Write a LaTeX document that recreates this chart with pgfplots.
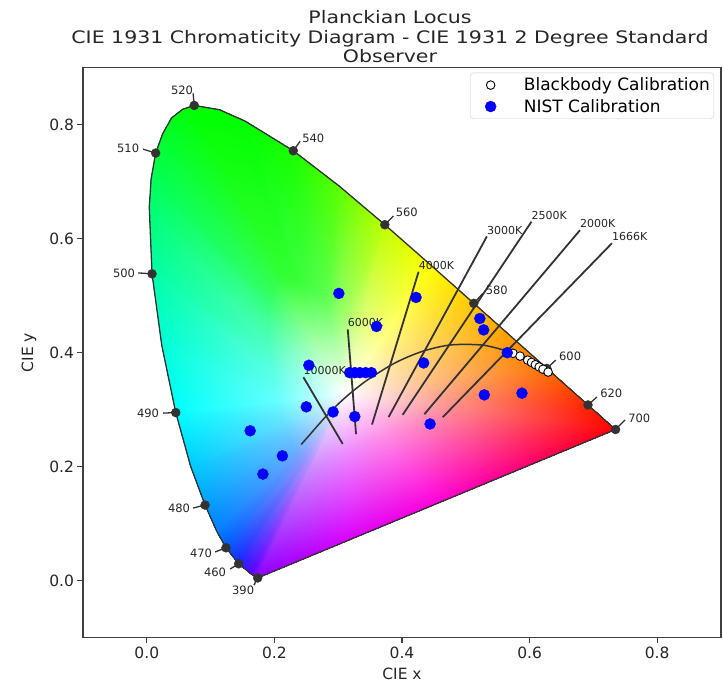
\documentclass[border=0pt]{standalone}
\usepackage{fontspec}
\setmainfont{DejaVu Sans}
\usepackage{graphicx}
\usepackage{pgfplots}
\pgfplotsset{compat=1.18}
\definecolor{locus}{RGB}{51,51,51}

\begin{document}
\begin{tikzpicture}
\begin{axis}[
  name=ax,
  scale only axis,
  width=638pt, height=570pt,
  xmin=-0.1, xmax=0.9, ymin=-0.1, ymax=0.9,
  xtick={0,0.2,0.4,0.6,0.8}, ytick={0,0.2,0.4,0.6,0.8},
  xticklabels={0.0,0.2,0.4,0.6,0.8}, yticklabels={0.0,0.2,0.4,0.6,0.8},
  tick align=outside, tick pos=left, major tick length=5.5pt,
  axis line style={black!75, line width=1.1pt},
  every tick/.style={black!75, line width=1.1pt},
  ticklabel style={font=\fontsize{15.5}{18}\selectfont, text=black!85},
  xlabel={CIE x}, ylabel={CIE y},
  xlabel shift=3pt, ylabel shift=6pt,
  label style={font=\fontsize{15.5}{18}\selectfont, text=black!85},
  legend style={at={(rel axis cs:1,1)}, anchor=north east, xshift=-7pt, yshift=-5pt,
    draw=black!20, rounded corners=3pt, fill=white,
    font=\fontsize{17}{19}\selectfont, row sep=3pt, inner xsep=2pt, inner ysep=3pt},
  legend cell align=left,
  legend image code/.code={\path (0pt,0pt) (49pt,0pt); \draw[#1] plot coordinates {(18pt,0pt)};},
  unbounded coords=jump,
]

% chromaticity fill: white point (0), inner ring (1-28), spectral locus (29-56, 57-59)
\addplot[forget plot, patch, patch type=triangle, shader=interp,
  mesh/color input=explicit, point meta=explicit symbolic,
  table/row sep=\\,
  patch table={%
0 1 2\\ 1 2 30\\ 1 30 29\\
0 2 3\\ 2 3 31\\ 2 31 30\\
0 3 4\\ 3 4 32\\ 3 32 31\\
0 4 5\\ 4 5 33\\ 4 33 32\\
0 5 6\\ 5 6 34\\ 5 34 33\\
0 6 7\\ 6 7 35\\ 6 35 34\\
0 7 8\\ 7 8 36\\ 7 36 35\\
0 8 9\\ 8 9 37\\ 8 37 36\\
0 9 10\\ 9 10 38\\ 9 38 37\\
0 10 11\\ 10 11 39\\ 10 39 38\\
0 11 12\\ 11 39 57\\ 11 57 12\\ 12 57 40\\
0 12 13\\ 12 40 58\\ 12 58 13\\ 13 58 41\\
0 13 14\\ 13 41 59\\ 13 59 14\\ 14 59 42\\
0 14 15\\ 14 15 43\\ 14 43 42\\
0 15 16\\ 15 16 44\\ 15 44 43\\
0 16 17\\ 16 17 45\\ 16 45 44\\
0 17 18\\ 17 18 46\\ 17 46 45\\
0 18 19\\ 18 19 47\\ 18 47 46\\
0 19 20\\ 19 20 48\\ 19 48 47\\
0 20 21\\ 20 21 49\\ 20 49 48\\
0 21 22\\ 21 22 50\\ 21 50 49\\
0 22 23\\ 22 23 51\\ 22 51 50\\
0 23 24\\ 23 24 52\\ 23 52 51\\
0 24 25\\ 24 25 53\\ 24 53 52\\
0 25 26\\ 25 26 54\\ 25 54 53\\
0 26 27\\ 26 27 55\\ 26 55 54\\
0 27 28\\ 27 28 56\\ 27 56 55\\
0 28 1\\ 28 1 29\\ 28 29 56\\
}] table[x=x, y=y, meta=c] {
x y c\\
0.3127 0.3290 rgb=1,1,1\\
0.2571 0.1994 rgb=0.80,0.55,1\\
0.2534 0.2018 rgb=0.71,0.55,1\\
0.2452 0.2093 rgb=0.55,0.58,1\\
0.2373 0.2205 rgb=0.45,0.64,1\\
0.2315 0.2321 rgb=0.40,0.70,1\\
0.2241 0.2505 rgb=0.40,0.77,1\\
0.2151 0.2777 rgb=0.40,0.88,1\\
0.2058 0.3154 rgb=0.40,1,1\\
0.1970 0.3625 rgb=0.35,1,0.90\\
0.1909 0.4128 rgb=0.30,1,0.75\\
0.1892 0.4593 rgb=0.25,1,0.59\\
0.1932 0.4975 rgb=0.20,1,0.40\\
0.2032 0.5222 rgb=0.20,1,0.28\\
0.2173 0.5309 rgb=0.20,1,0.20\\
0.2333 0.5279 rgb=0.20,1,0.20\\
0.2495 0.5198 rgb=0.25,1,0.25\\
0.2795 0.4991 rgb=0.35,1,0.30\\
0.3083 0.4743 rgb=0.60,1,0.40\\
0.3369 0.4472 rgb=0.88,1,0.50\\
0.3653 0.4193 rgb=1,1,0.55\\
0.3926 0.3920 rgb=1,0.90,0.55\\
0.4177 0.3671 rgb=1,0.82,0.55\\
0.4384 0.3464 rgb=1,0.75,0.55\\
0.4642 0.3207 rgb=1,0.62,0.55\\
0.4815 0.3035 rgb=1,0.55,0.55\\
0.4254 0.2775 rgb=1,0.55,0.75\\
0.3693 0.2514 rgb=1,0.55,0.91\\
0.3132 0.2254 rgb=0.93,0.55,1\\
0.1738 0.0049 rgb=0.55,0,1\\
0.1644 0.0109 rgb=0.35,0,1\\
0.1440 0.0297 rgb=0.1,0.15,1\\
0.1241 0.0578 rgb=0,0.35,1\\
0.1096 0.0868 rgb=0,0.5,1\\
0.0913 0.1327 rgb=0,0.62,1\\
0.0687 0.2007 rgb=0,0.8,1\\
0.0454 0.2950 rgb=0,1,1\\
0.0235 0.4127 rgb=0,1,0.85\\
0.0082 0.5384 rgb=0,1,0.65\\
0.0039 0.6548 rgb=0,1,0.45\\
0.0139 0.7502 rgb=0,1,0.25\\
0.0389 0.8120 rgb=0,1,0.1\\
0.0743 0.8338 rgb=0,1,0\\
0.1142 0.8262 rgb=0,1,0\\
0.1547 0.8059 rgb=0,1,0\\
0.2296 0.7543 rgb=0.1,1,0\\
0.3016 0.6923 rgb=0.35,1,0\\
0.3731 0.6245 rgb=0.75,1,0\\
0.4441 0.5547 rgb=1,1,0\\
0.5125 0.4866 rgb=1,0.78,0\\
0.5752 0.4242 rgb=1,0.6,0\\
0.6270 0.3725 rgb=1,0.45,0\\
0.6915 0.3083 rgb=1,0.15,0\\
0.7347 0.2653 rgb=1,0,0\\
0.5945 0.2002 rgb=1,0,0.45\\
0.4543 0.1351 rgb=1,0,0.85\\
0.3140 0.0700 rgb=0.85,0,1\\
0.0068 0.7050 rgb=0,1,0.35\\
0.0248 0.7840 rgb=0,1,0.17\\
0.0565 0.8272 rgb=0,1,0.04\\
};

% spectral locus outline
\addplot[forget plot, draw=locus, line width=1.3pt, line join=round] coordinates {
(0.1738,0.0049) (0.1644,0.0109) (0.1440,0.0297) (0.1241,0.0578) (0.1096,0.0868)
(0.0913,0.1327) (0.0687,0.2007) (0.0454,0.2950) (0.0235,0.4127) (0.0082,0.5384)
(0.0039,0.6548) (0.0068,0.7050) (0.0139,0.7502) (0.0248,0.7840) (0.0389,0.8120)
(0.0565,0.8272) (0.0743,0.8338) (0.1142,0.8262)
(0.1547,0.8059) (0.2296,0.7543) (0.3016,0.6923) (0.3731,0.6245) (0.4441,0.5547)
(0.5125,0.4866) (0.5752,0.4242) (0.6270,0.3725) (0.6915,0.3083) (0.7347,0.2653)
(0.1738,0.0049)
};

% Planckian locus
\addplot[forget plot, draw=locus, line width=1.5pt, smooth] coordinates {
(0.2420,0.2390) (0.2524,0.2522) (0.2637,0.2668) (0.2807,0.2883) (0.2952,0.3048)
(0.3064,0.3166) (0.3221,0.3318) (0.3451,0.3516) (0.3805,0.3768) (0.4053,0.3907)
(0.4369,0.4041) (0.4770,0.4137) (0.5267,0.4133) (0.5646,0.4029)
};

% isotemperature lines
\addplot[forget plot, draw=locus, line width=1.8pt] coordinates {
(0.464,0.287) (0.729,0.592) (nan,nan)
(0.435,0.292) (0.679,0.615) (nan,nan)
(0.401,0.291) (0.603,0.630) (nan,nan)
(0.379,0.287) (0.533,0.604) (nan,nan)
(0.353,0.274) (0.426,0.542) (nan,nan)
(0.328,0.257) (0.315,0.441) (nan,nan)
(0.307,0.240) (0.2455,0.357)
};

% wavelength ticks
\addplot[forget plot, draw=locus, line width=1.3pt] coordinates {
(0.1738,0.0049) (0.168,-0.0077) (nan,nan)
(0.1440,0.0297) (0.1306,0.0205) (nan,nan)
(0.1241,0.0578) (0.107,0.0504) (nan,nan)
(0.0913,0.1327) (0.0726,0.1275) (nan,nan)
(0.0454,0.2950) (0.0255,0.294) (nan,nan)
(0.0082,0.5384) (-0.0136,0.540) (nan,nan)
(0.0139,0.7502) (-0.0058,0.757) (nan,nan)
(0.0743,0.8338) (0.0726,0.855) (nan,nan)
(0.2296,0.7543) (0.2403,0.771) (nan,nan)
(0.3731,0.6245) (0.3865,0.6398) (nan,nan)
(0.5125,0.4866) (0.5266,0.504) (nan,nan)
(0.6270,0.3725) (0.641,0.387) (nan,nan)
(0.6915,0.3083) (0.7055,0.3223) (nan,nan)
(0.7347,0.2653) (0.7497,0.282)
};

% wavelength markers
\addplot[forget plot, only marks, mark=*, mark size=4.5pt, locus] coordinates {
(0.1738,0.0049) (0.1440,0.0297) (0.1241,0.0578) (0.0913,0.1327) (0.0454,0.2950)
(0.0082,0.5384) (0.0139,0.7502) (0.0743,0.8338) (0.2296,0.7543) (0.3731,0.6245)
(0.5125,0.4866) (0.6270,0.3725) (0.6915,0.3083) (0.7347,0.2653)
};

\begin{scope}[every node/.style={font=\fontsize{11.5}{13}\selectfont, text=black!85, inner sep=0pt}]
\node at (axis cs:0.151,-0.0163) {390};
\node at (axis cs:0.107,0.0153) {460};
\node at (axis cs:0.085,0.0486) {470};
\node at (axis cs:0.0506,0.1275) {480};
\node at (axis cs:0.002,0.294) {490};
\node at (axis cs:-0.0356,0.540) {500};
\node at (axis cs:-0.0293,0.759) {510};
\node at (axis cs:0.0553,0.861) {520};
\node at (axis cs:0.261,0.776) {540};
\node at (axis cs:0.4075,0.6456) {560};
\node at (axis cs:0.5486,0.510) {580};
\node at (axis cs:0.6635,0.394) {600};
\node at (axis cs:0.728,0.329) {620};
\node at (axis cs:0.772,0.285) {700};
\end{scope}

\begin{scope}[every node/.style={font=\fontsize{11}{13}\selectfont, text=black!85, inner sep=0pt, anchor=south west, yshift=2pt}]
\node at (axis cs:0.729,0.592) {1666K};
\node at (axis cs:0.679,0.615) {2000K};
\node at (axis cs:0.603,0.630) {2500K};
\node at (axis cs:0.533,0.604) {3000K};
\node at (axis cs:0.426,0.542) {4000K};
\node at (axis cs:0.315,0.441) {6000K};
\node at (axis cs:0.2455,0.357) {10000K};
\end{scope}

\addplot[only marks, mark=*, mark size=4.3pt, mark options={draw=black, fill=white, line width=0.9pt}] coordinates {
(0.574,0.399) (0.585,0.394) (0.597,0.387) (0.603,0.383) (0.609,0.379)
(0.615,0.375) (0.621,0.371) (0.629,0.366)
};
\addlegendentry{Blackbody Calibration}

\addplot[only marks, mark=*, mark size=5.5pt, blue, mark options={draw=blue, fill=blue}] coordinates {
(0.301,0.504) (0.422,0.497) (0.360,0.446) (0.254,0.378)
(0.318,0.365) (0.326,0.365) (0.334,0.365) (0.343,0.365) (0.352,0.365)
(0.434,0.382) (0.250,0.305) (0.292,0.296) (0.326,0.288) (0.444,0.275)
(0.522,0.460) (0.528,0.440) (0.565,0.400) (0.529,0.326) (0.588,0.329)
(0.162,0.263) (0.2125,0.219) (0.182,0.187)
};
\addlegendentry{NIST Calibration}
\end{axis}
\begin{scope}[every node/.style={font=\fontsize{20.5}{22}\selectfont, text=black!85, anchor=base, inner sep=0pt}]
\node at ([xshift=-12pt,yshift=4.7pt]ax.north) {\scalebox{1}[0.84]{Observer}};
\node at ([xshift=-12pt,yshift=24.4pt]ax.north) {\scalebox{1}[0.84]{CIE 1931 Chromaticity Diagram - CIE 1931 2 Degree Standard}};
\node at ([xshift=-12pt,yshift=44.1pt]ax.north) {\scalebox{1}[0.84]{Planckian Locus}};
\end{scope}
\pgfresetboundingbox
\path[use as bounding box] ([xshift=-83pt,yshift=-45.3pt]ax.south west) rectangle ([xshift=2pt,yshift=67.7pt]ax.north east);
\end{tikzpicture}
\end{document}
